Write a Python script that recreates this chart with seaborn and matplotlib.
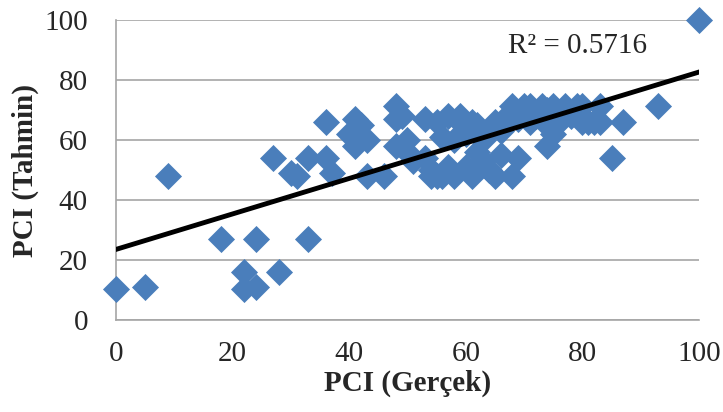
import numpy as np
import pandas as pd
import matplotlib
matplotlib.use("Agg")
import matplotlib.pyplot as plt
import seaborn as sns

# Actual PCI values (x) and predicted PCI values (y)
pci_gercek = [0, 5, 9, 18, 22, 22, 24, 24, 27, 28, 30, 31, 33, 33, 36, 36, 37,
              40, 41, 41, 41, 42, 43, 43, 46, 48, 48, 48, 49, 50, 50, 51, 53, 53,
              54, 54, 55, 55, 56, 56, 57, 57, 58, 58, 59, 59, 60, 60, 61, 61, 62,
              62, 63, 63, 64, 64, 65, 65, 66, 66, 67, 67, 68, 68, 69, 69, 70, 71,
              71, 72, 73, 74, 74, 74, 75, 75, 76, 77, 78, 79, 80, 80, 81, 82, 83,
              83, 85, 87, 93, 100]
pci_tahmin = [10.5, 11, 48, 27, 16, 10.5, 11, 27, 54, 16, 49, 48, 27, 54, 54, 66, 49,
              62, 67, 62, 58, 65, 60, 48, 48, 71.5, 67, 58, 68, 60, 56, 53, 67, 54,
              50, 48, 66, 48, 61, 48, 68, 51, 60, 48, 68, 66, 51, 62, 66, 48, 65,
              56, 60, 53, 50, 63, 48, 66, 55, 63, 68, 66, 71.5, 48, 54, 67, 71.5, 66,
              71.5, 68, 71.5, 58, 65, 70, 71.5, 62, 66, 71.5, 68, 71.5, 66, 71.5, 66, 66, 71.5,
              66, 54, 66, 71.5, 100]

r2_text = "R² = 0.5716"
x_ticks = [0, 20, 40, 60, 80, 100]
y_ticks = [0, 20, 40, 60, 80, 100]

df = pd.DataFrame({"x": pci_gercek, "y": pci_tahmin})

sns.set_style("white")
plt.rcParams["font.family"] = ["Liberation Serif", "DejaVu Serif"]

fig = plt.figure(figsize=(7.23, 4.12), dpi=100)
ax = fig.add_axes([0.160, 0.223, 0.807, 0.728])

ax.yaxis.grid(True, color="#a6a6a6", linewidth=1.2)
ax.set_axisbelow(True)

sns.scatterplot(data=df, x="x", y="y", marker="D", s=190, color="#4a7ebb",
                edgecolor="#4a7ebb", linewidth=0, ax=ax, zorder=3, clip_on=False)
sns.regplot(data=df, x="x", y="y", scatter=False, ci=None, truncate=False,
            line_kws={"color": "black", "linewidth": 3.5, "zorder": 4}, ax=ax)

ax.set_xlim(0, 100)
ax.set_ylim(0, 100)
ax.set_xticks(x_ticks)
ax.set_yticks(y_ticks)
ax.tick_params(axis="both", labelsize=21, length=6, color="#a6a6a6", width=1.2,
               direction="out")
ax.tick_params(axis="y", pad=14)
ax.tick_params(axis="x", pad=9)
for side in ["top", "right"]:
    ax.spines[side].set_visible(False)
for side in ["left", "bottom"]:
    ax.spines[side].set_color("#a6a6a6")
    ax.spines[side].set_linewidth(1.2)

ax.set_xlabel("PCI (Gerçek)", fontsize=21, fontweight="bold", labelpad=2)
ax.set_ylabel("PCI (Tahmin)", fontsize=21, fontweight="bold", labelpad=4)

ax.text(0.672, 0.915, r2_text, transform=ax.transAxes, fontsize=21,
        ha="left", va="center")

fig.savefig("out.png", dpi=100)
